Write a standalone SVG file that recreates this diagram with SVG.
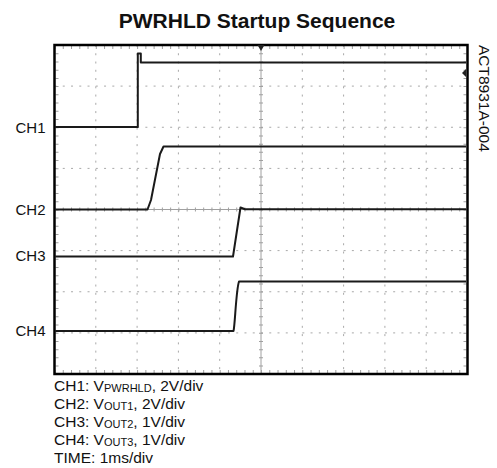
<svg xmlns="http://www.w3.org/2000/svg" width="497" height="468" viewBox="0 0 497 468">
<style>
text{font-family:"Liberation Sans",Arial,sans-serif;fill:#111}
.title{font-size:21px;font-weight:bold}
.lbl{font-size:15px;text-anchor:end}
.side{font-size:15.5px}
.note{font-size:15.5px}
.sub{font-size:11px}
.grid{stroke:#a8a8a8;stroke-width:1;stroke-dasharray:2 6.26;fill:none}
.center{stroke:#a0a0a0;stroke-width:1;fill:none}
.tickh{stroke:#a0a0a0;stroke-width:4;stroke-dasharray:1 7.26;fill:none}
.tickv{stroke:#a0a0a0;stroke-width:4;stroke-dasharray:1 7.22;fill:none}
.trace{stroke:#1a1a1a;stroke-width:2;fill:none;stroke-linejoin:round}
</style>
<rect width="497" height="468" fill="#fff"/>
<text class="title" x="257" y="28" text-anchor="middle">PWRHLD Startup Sequence</text>
<g id="graticule">
<path class="grid" d="M95.8,45V374M137.1,45V374M178.4,45V374M219.7,45V374M302.3,45V374M343.6,45V374M384.9,45V374M426.2,45V374"/>
<path class="grid" d="M54.5,86.1H467.5M54.5,127.25H467.5M54.5,168.4H467.5M54.5,250.6H467.5M54.5,291.75H467.5M54.5,332.9H467.5"/>
<path class="center" d="M261,45V374M54.5,209.5H467.5"/>
<path class="tickh" d="M54.5,209.5H467.5"/>
<path class="tickv" d="M261,45V374"/>
<path stroke="#a0a0a0" stroke-width="3" stroke-dasharray="1 7.26" fill="none" d="M54.5,47.5H467.5M54.5,371.5H467.5"/>
<path stroke="#a0a0a0" stroke-width="3" stroke-dasharray="1 7.22" fill="none" d="M57,45V374M465,45V374"/>
<rect x="54.5" y="45" width="413" height="329" fill="none" stroke="#000" stroke-width="2.5"/>
</g>
<g id="markers">
<path d="M257.5,45H264.5L261,51Z" fill="#222"/>
<path d="M466,69V77L462,73Z" fill="#222"/>
</g>
<g id="connectors">
<path id="ch1" class="trace" d="M55,127H137.8V53.5H140.8V62.5H466"/>
<path id="ch2" class="trace" d="M55,209.5H147.5L151,200L160,154L163.5,146.5H466"/>
<path id="ch3" class="trace" d="M55,256.5H233L240.5,207.5L245,209.3H466"/>
<path id="ch4" class="trace" d="M55,331H233.5C235,326 236,290 239,281.5H466"/>
</g>
<g id="ch-labels">
<text class="lbl" x="45.5" y="133">CH1</text>
<text class="lbl" x="45.5" y="214.5">CH2</text>
<text class="lbl" x="45.5" y="261">CH3</text>
<text class="lbl" x="45.5" y="336">CH4</text>
</g>
<g id="side-label">
<text class="side" transform="translate(478.5,45) rotate(90)">ACT8931A-004</text>
</g>
<g id="legend">
<text class="note" x="54" y="390.5">CH1: V<tspan class="sub" dy="1">PWRHLD</tspan><tspan dy="-1">, 2V/div</tspan></text>
<text class="note" x="54" y="408.5">CH2: V<tspan class="sub" dy="1">OUT1</tspan><tspan dy="-1">, 2V/div</tspan></text>
<text class="note" x="54" y="426.5">CH3: V<tspan class="sub" dy="1">OUT2</tspan><tspan dy="-1">, 1V/div</tspan></text>
<text class="note" x="54" y="445">CH4: V<tspan class="sub" dy="1">OUT3</tspan><tspan dy="-1">, 1V/div</tspan></text>
<text class="note" x="54" y="463">TIME: 1ms/div</text>
</g>
</svg>
